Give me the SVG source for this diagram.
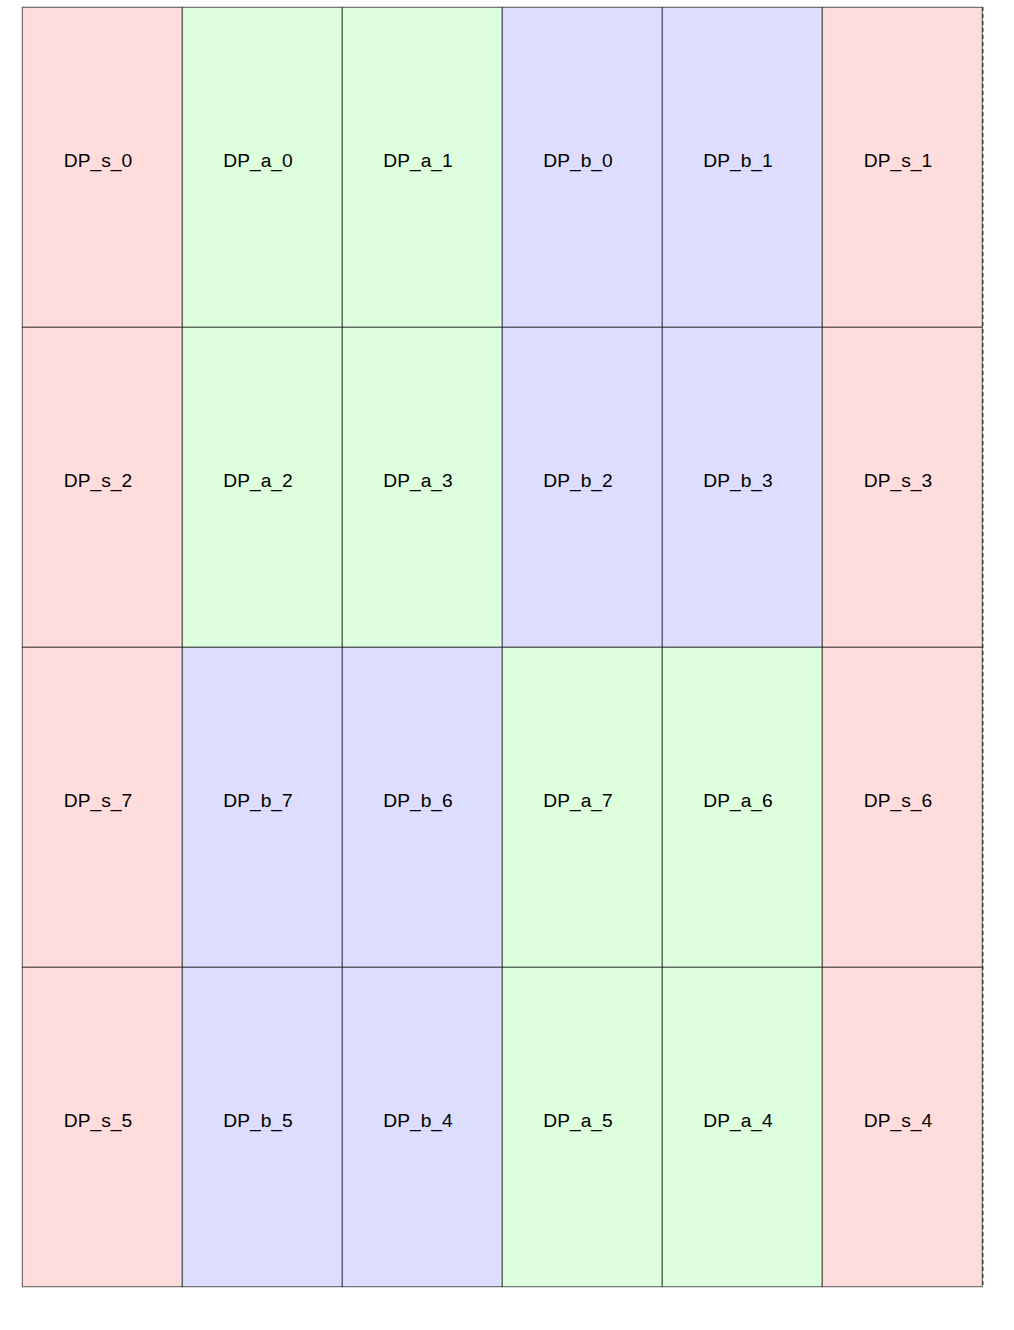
<svg xmlns="http://www.w3.org/2000/svg" width="1014" height="1330" viewBox="0 0 1014 1330">
<style>
rect{stroke:#000;stroke-opacity:0.6;stroke-width:1.1}
.s{fill:#ffdddd}.a{fill:#ddffdd}.b{fill:#ddddff}
text{font-family:"Liberation Sans",Arial,sans-serif;font-size:19.2px;fill:#000;text-anchor:middle}
</style>
<rect x="0" y="0" width="1014" height="1330" fill="#fff" style="stroke:none"/>
<g id="DP_s_0"><rect class="s" x="22.3" y="7.3" width="160" height="320"/><text x="98" y="167">DP_s_0</text></g>
<g id="DP_a_0"><rect class="a" x="182.3" y="7.3" width="160" height="320"/><text x="258" y="167">DP_a_0</text></g>
<g id="DP_a_1"><rect class="a" x="342.3" y="7.3" width="160" height="320"/><text x="418" y="167">DP_a_1</text></g>
<g id="DP_b_0"><rect class="b" x="502.3" y="7.3" width="160" height="320"/><text x="578" y="167">DP_b_0</text></g>
<g id="DP_b_1"><rect class="b" x="662.3" y="7.3" width="160" height="320"/><text x="738" y="167">DP_b_1</text></g>
<g id="DP_s_1"><rect class="s" x="822.3" y="7.3" width="160" height="320"/><text x="898" y="167">DP_s_1</text></g>

<g id="DP_s_2"><rect class="s" x="22.3" y="327.3" width="160" height="320"/><text x="98" y="487">DP_s_2</text></g>
<g id="DP_a_2"><rect class="a" x="182.3" y="327.3" width="160" height="320"/><text x="258" y="487">DP_a_2</text></g>
<g id="DP_a_3"><rect class="a" x="342.3" y="327.3" width="160" height="320"/><text x="418" y="487">DP_a_3</text></g>
<g id="DP_b_2"><rect class="b" x="502.3" y="327.3" width="160" height="320"/><text x="578" y="487">DP_b_2</text></g>
<g id="DP_b_3"><rect class="b" x="662.3" y="327.3" width="160" height="320"/><text x="738" y="487">DP_b_3</text></g>
<g id="DP_s_3"><rect class="s" x="822.3" y="327.3" width="160" height="320"/><text x="898" y="487">DP_s_3</text></g>

<g id="DP_s_7"><rect class="s" x="22.3" y="647.3" width="160" height="320"/><text x="98" y="807">DP_s_7</text></g>
<g id="DP_b_7"><rect class="b" x="182.3" y="647.3" width="160" height="320"/><text x="258" y="807">DP_b_7</text></g>
<g id="DP_b_6"><rect class="b" x="342.3" y="647.3" width="160" height="320"/><text x="418" y="807">DP_b_6</text></g>
<g id="DP_a_7"><rect class="a" x="502.3" y="647.3" width="160" height="320"/><text x="578" y="807">DP_a_7</text></g>
<g id="DP_a_6"><rect class="a" x="662.3" y="647.3" width="160" height="320"/><text x="738" y="807">DP_a_6</text></g>
<g id="DP_s_6"><rect class="s" x="822.3" y="647.3" width="160" height="320"/><text x="898" y="807">DP_s_6</text></g>

<g id="DP_s_5"><rect class="s" x="22.3" y="967.3" width="160" height="319.4"/><text x="98" y="1127">DP_s_5</text></g>
<g id="DP_b_5"><rect class="b" x="182.3" y="967.3" width="160" height="319.4"/><text x="258" y="1127">DP_b_5</text></g>
<g id="DP_b_4"><rect class="b" x="342.3" y="967.3" width="160" height="319.4"/><text x="418" y="1127">DP_b_4</text></g>
<g id="DP_a_5"><rect class="a" x="502.3" y="967.3" width="160" height="319.4"/><text x="578" y="1127">DP_a_5</text></g>
<g id="DP_a_4"><rect class="a" x="662.3" y="967.3" width="160" height="319.4"/><text x="738" y="1127">DP_a_4</text></g>
<g id="DP_s_4"><rect class="s" x="822.3" y="967.3" width="160" height="319.4"/><text x="898" y="1127">DP_s_4</text></g>

<g id="connectors">
<line x1="982.8" y1="7" x2="982.8" y2="1287" stroke="#333" stroke-width="1.3" stroke-dasharray="4,3"/>
</g>
</svg>
